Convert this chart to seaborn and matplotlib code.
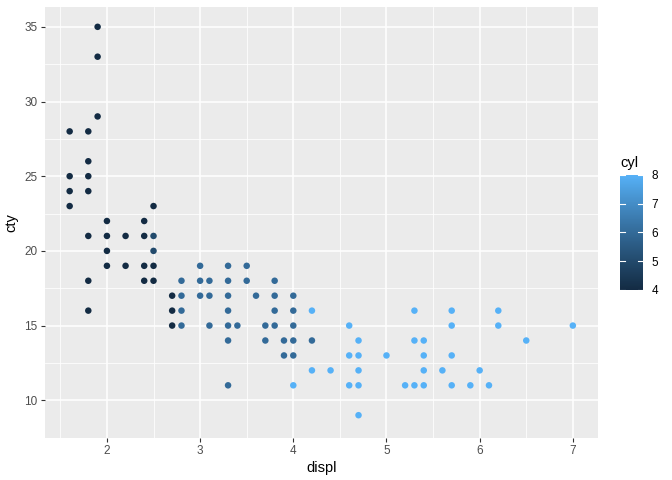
import numpy as np
import pandas as pd
import seaborn as sns
import matplotlib.pyplot as plt
from matplotlib.colors import ListedColormap, Normalize, to_rgb
from matplotlib.cm import ScalarMappable

# punti distinti (displ, cty, cyl)
displ = [1.9, 1.9, 1.9, 1.6, 1.8, 1.8, 1.6, 1.8, 1.6, 1.8, 1.6, 2.5,
         2.0, 2.4, 1.8, 2.0, 2.2, 2.4, 2.5, 2.0, 2.5,
         2.0, 2.2, 2.4, 2.5, 1.8, 2.4, 2.5, 2.7, 2.7, 2.7, 1.8,
         3.0, 3.3, 3.5, 2.8, 3.0, 3.1, 3.3, 3.5, 3.8,
         2.8, 3.0, 3.1, 3.3, 3.6, 3.8, 4.0,
         2.8, 3.3, 3.8, 4.0, 4.2,
         2.8, 3.1, 3.3, 3.4, 3.7, 3.8, 4.0, 4.6, 5.7, 6.2, 7.0,
         3.3, 3.7, 3.9, 4.0, 4.2, 4.7, 5.3, 5.4, 6.5,
         3.9, 4.0, 4.6, 4.7, 5.0, 5.4, 5.7,
         4.2, 4.4, 4.7, 5.4, 5.6, 6.0,
         3.3, 4.0, 4.6, 4.7, 5.2, 5.3, 5.4, 5.7, 5.9, 6.1,
         4.7, 5.3, 5.7, 6.2]
cty = [35, 33, 29, 28, 28, 26, 25, 25, 24, 24, 23, 23,
       22, 22, 21, 21, 21, 21, 21, 20, 20,
       19, 19, 19, 19, 18, 18, 18, 17, 16, 15, 16,
       19, 19, 19, 18, 18, 18, 18, 18, 18,
       17, 17, 17, 17, 17, 17, 17,
       16, 16, 16, 16, 16,
       15, 15, 15, 15, 15, 15, 15, 15, 15, 15, 15,
       14, 14, 14, 14, 14, 14, 14, 14, 14,
       13, 13, 13, 13, 13, 13, 13,
       12, 12, 12, 12, 12, 12,
       11, 11, 11, 11, 11, 11, 11, 11, 11, 11,
       9, 16, 16, 16]
cyl = [4, 4, 4, 4, 4, 4, 4, 4, 4, 4, 4, 4,
       4, 4, 4, 4, 4, 4, 5, 4, 5,
       4, 4, 4, 4, 4, 4, 4, 4, 4, 4, 4,
       6, 6, 6, 6, 6, 6, 6, 6, 6,
       6, 6, 6, 6, 6, 6, 6,
       6, 6, 6, 6, 8,
       6, 6, 6, 6, 6, 6, 6, 8, 8, 8, 8,
       6, 6, 6, 6, 6, 8, 8, 8, 8,
       6, 6, 8, 8, 8, 8, 8,
       8, 8, 8, 8, 8, 8,
       6, 8, 8, 8, 8, 8, 8, 8, 8, 8,
       8, 8, 8, 8]

df = pd.DataFrame({"displ": displ, "cty": cty, "cyl": cyl})


# gradiente in spazio Lab come ggplot
def srgb_to_lab(c):
    c = np.asarray(c)
    lin = np.where(c <= 0.04045, c / 12.92, ((c + 0.055) / 1.055) ** 2.4)
    M = np.array([[0.4124, 0.3576, 0.1805], [0.2126, 0.7152, 0.0722], [0.0193, 0.1192, 0.9505]])
    xyz = M @ lin / np.array([0.95047, 1.0, 1.08883])
    f = np.where(xyz > 0.008856, np.cbrt(xyz), 7.787 * xyz + 16 / 116)
    return np.array([116 * f[1] - 16, 500 * (f[0] - f[1]), 200 * (f[1] - f[2])])


def lab_to_srgb(lab):
    L, a, b = lab
    fy = (L + 16) / 116
    fx = fy + a / 500
    fz = fy - b / 200
    f = np.array([fx, fy, fz])
    xyz = np.where(f ** 3 > 0.008856, f ** 3, (f - 16 / 116) / 7.787) * np.array([0.95047, 1.0, 1.08883])
    Mi = np.array([[3.2406, -1.5372, -0.4986], [-0.9689, 1.8758, 0.0415], [0.0557, -0.2040, 1.0570]])
    lin = Mi @ xyz
    c = np.where(lin <= 0.0031308, 12.92 * lin, 1.055 * np.clip(lin, 0, None) ** (1 / 2.4) - 0.055)
    return np.clip(c, 0, 1)


lo = srgb_to_lab(to_rgb("#132B43"))
hi = srgb_to_lab(to_rgb("#56B1F7"))
cmap = ListedColormap([lab_to_srgb(lo + t * (hi - lo)) for t in np.linspace(0, 1, 256)])
norm = Normalize(4, 8)

plt.rcParams["font.family"] = ["Liberation Sans", "DejaVu Sans"]
fig = plt.figure(figsize=(6.72, 4.8), dpi=100)
ax = fig.add_axes([44.5 / 672, 1 - 437.6 / 480, 553.5 / 672, 430.2 / 480])
ax.set_facecolor("#EBEBEB")

sns.scatterplot(data=df, x="displ", y="cty", hue="cyl", palette=cmap,
                hue_norm=norm, s=22, linewidth=0, legend=False, ax=ax, zorder=3)

ax.set_xlim(1.33, 7.27)
ax.set_ylim(7.7, 36.3)
ax.set_xticks(range(2, 8))
ax.set_yticks(range(10, 40, 5))
ax.set_xticks(np.arange(1.5, 7.5, 1), minor=True)
ax.set_yticks(np.arange(7.5, 37.5, 5), minor=True)
ax.grid(which="major", color="white", linewidth=1.1, zorder=0)
ax.grid(which="minor", color="white", linewidth=0.55, zorder=0)
ax.set_axisbelow(True)
for s in ax.spines.values():
    s.set_visible(False)
ax.tick_params(which="major", length=3, width=0.8, color="#333333",
               labelcolor="#4D4D4D", labelsize=8.5, pad=2)
ax.tick_params(which="minor", length=0)
ax.set_xlabel("displ", fontsize=10.5, labelpad=3)
ax.set_ylabel("cty", fontsize=10.5, labelpad=4)

# legenda colore
cax = fig.add_axes([620 / 672, 1 - 290 / 480, 23 / 672, 115 / 480])
cb = fig.colorbar(ScalarMappable(norm=norm, cmap=cmap), cax=cax, ticks=[4, 5, 6, 7, 8])
cb.outline.set_visible(False)
cax.tick_params(length=0, labelsize=8.5, labelcolor="black", pad=6)
for v in [4, 5, 6, 7, 8]:
    cax.plot([0, 0.2], [v, v], color="white", linewidth=0.8, transform=cax.get_yaxis_transform())
    cax.plot([0.8, 1], [v, v], color="white", linewidth=0.8, transform=cax.get_yaxis_transform())
fig.text(620 / 672, 1 - 163 / 480, "cyl", fontsize=10.5, va="center", ha="left")

fig.savefig("out.png", dpi=100)
